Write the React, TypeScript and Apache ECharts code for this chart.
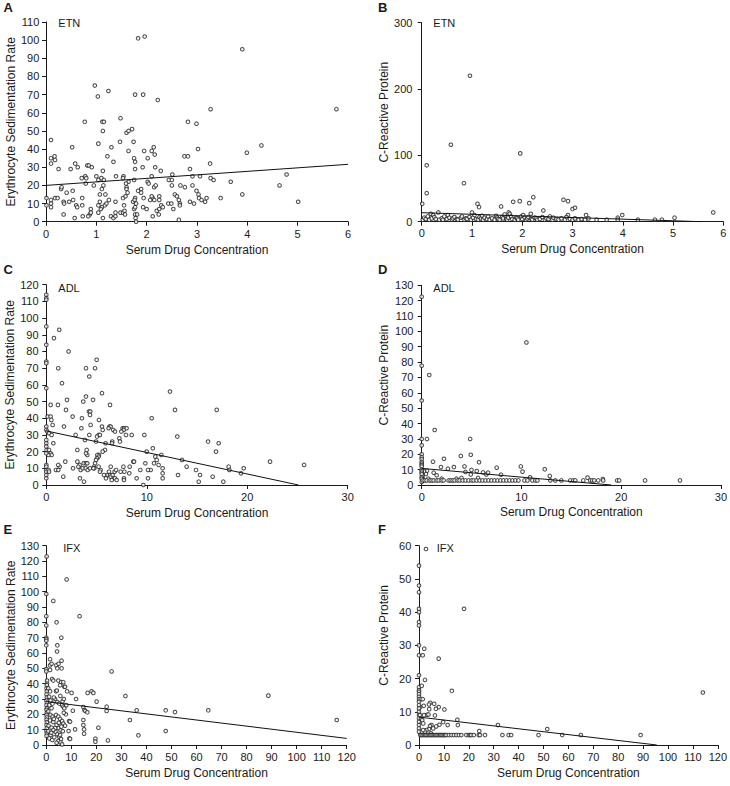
import React, { useEffect, useRef } from "react";
import * as echarts from "echarts";

// ---------- DATA ----------
const xTitle = "Serum Drug Concentration";
const esrTitle = "Erythrocyte Sedimentation Rate";
const crpTitle = "C-Reactive Protein";
const panelLetters = ["A", "B", "C", "D", "E", "F"];
const drugTags = ["ETN", "ETN", "ADL", "ADL", "IFX", "IFX"];

const etnEsr = [
  [1.83,101],[1.96,102],[3.90,95],[0.97,75],[1.03,69],[1.24,72],[1.77,70],[1.93,70],[2.22,67],[3.27,62],[5.77,62],
  [0.77,55],[1.12,55],[1.15,55],[2.82,55],[2.99,54],[1.48,57],[1.13,50],[1.60,49],[1.64,50],[1.71,51],
  [0.10,45],[0.52,41],[1.04,43],[1.30,41],[1.47,44],[1.74,44],[1.64,39],[1.95,39],[2.10,39],[2.14,41],[2.16,37],
  [1.34,33],[1.75,35],[1.77,33],[2.02,35],[0.10,35],[0.17,36],[0.18,34],[0.10,32],[0.58,32],[0.63,30],[0.82,31],
  [0.85,31],[0.91,30],[0.25,29],[0.49,29],[1.13,28],[1.22,36],[1.92,30],[2.17,30],[2.28,28],[2.75,36],[2.82,36],
  [3.02,40],[2.86,29],[3.26,32],[4.28,42],[3.99,38],[1.77,29],
  [1.00,25],[1.10,24],[1.15,23],[1.39,25],[1.54,25],[1.53,24],[0.78,25],[0.71,24],[0.80,24],[1.04,23],[1.64,22],
  [1.75,23],[2.02,22],[2.04,21],[2.10,25],[2.51,26],[2.44,23],[2.50,23],[2.91,25],[3.06,25],[3.27,24],[3.33,23],
  [3.67,22],[4.78,26],[4.64,20],[5.01,11],[3.90,15],[3.47,13],
  [0.79,21],[0.95,20],[1.14,20],[1.59,21],[1.60,19],[1.60,18],[0.30,18],[0.31,19],[0.41,16],[0.53,17],[1.11,18],
  [1.62,16],[1.89,18],[1.89,16],[2.15,19],[2.18,20],[1.83,17],[2.67,20],[2.76,19],[2.91,20],[2.99,17],[3.03,15],
  [3.04,13],[3.16,11],[2.56,15],[2.60,14],[2.50,20],[2.12,13],[2.15,12],[1.94,13],[2.10,14],[2.07,12],[2.25,14],
  [2.25,12],[1.77,13],[1.73,11],[1.38,11],[1.53,13],[1.58,14],[1.07,15],[1.18,15],[1.07,11],[1.25,12],
  [0.01,13],[0.01,9],[0.10,12],[0.10,10],[0.10,8],[0.18,13],[0.35,11],[0.46,11],[0.54,12],[0.60,9],[0.62,8],
  [0.72,13],[0.72,9],[0.89,7],[0.87,4],[0.89,5],[0.84,3],[1.04,9],[1.04,5],[1.11,8],[1.09,7],[1.17,9],[1.13,2],
  [1.20,10],[1.29,3],[1.34,2],[1.38,3],[1.38,5],[1.48,5],[1.53,5],[1.56,6],[1.57,4],[1.55,9],[1.75,7],[1.77,8],
  [1.79,10],[1.76,12],[1.77,4],[1.78,2],[1.79,0],[1.81,4],[1.93,8],[2.00,7],[2.12,3],[2.20,6],[2.24,4],[2.25,7],
  [2.29,9],[2.32,8],[2.43,10],[2.49,10],[2.53,7],[2.64,12],[2.66,10],[2.66,9],[2.64,1],[2.86,11],[2.94,10],
  [3.09,12],[3.19,13],[0.35,4],[0.57,2],[0.73,3],[0.36,10],[0.23,13]
];

const etnCrp = [
  [0.96,220],[0.58,116],[0.10,85],[1.96,103],[0.84,58],[0.10,43],[0.01,27],[1.11,27],[1.14,22],[1.58,23],
  [1.82,30],[1.95,31],[2.14,28],[2.22,37],[2.82,33],[2.91,31],[3.00,19],[3.05,21],[2.42,17],[1.00,14],[0.33,14],
  [0.18,12],[0.23,10],[1.73,14],[1.75,12],[2.17,12],[2.91,10],[3.27,10],[3.99,10],[5.80,14],[5.03,6],[3.90,6],
  [3.48,3],[3.68,3],[4.30,3],[4.64,3],[4.78,3],[3.90,3],
  [0.02,3],[0.05,6],[0.08,4],[0.12,8],[0.15,3],[0.20,5],[0.25,7],[0.28,4],[0.35,3],[0.40,5],[0.42,3],[0.45,8],
  [0.50,4],[0.52,10],[0.55,6],[0.60,3],[0.62,5],[0.65,7],[0.70,4],[0.72,3],[0.78,6],[0.80,8],[0.85,3],[0.88,5],
  [0.90,4],[0.95,7],[0.98,3],[1.02,6],[1.05,10],[1.08,4],[1.12,3],[1.15,7],[1.18,5],[1.20,9],[1.22,3],[1.25,6],
  [1.30,4],[1.32,8],[1.35,3],[1.40,5],[1.45,3],[1.48,9],[1.50,6],[1.52,4],[1.55,3],[1.60,7],[1.62,5],[1.65,11],
  [1.68,4],[1.70,3],[1.72,6],[1.78,8],[1.80,4],[1.85,3],[1.88,6],[1.90,5],[1.92,3],[1.98,8],[2.00,4],[2.02,10],
  [2.05,6],[2.08,3],[2.10,5],[2.12,7],[2.18,4],[2.20,3],[2.25,6],[2.28,5],[2.30,3],[2.35,4],[2.40,7],[2.45,3],
  [2.48,5],[2.52,4],[2.55,8],[2.60,3],[2.62,6],[2.68,4],[2.72,3],[2.78,5],[2.85,3],[2.88,7],[2.95,4],[3.00,3],
  [3.05,5],[3.12,3],[3.18,4],[3.25,3],[3.32,5]
];

const adlEsr = [
  [0,114],[0,112],[0,111],[0,95],[0,84],[0,74],[0,73],[0,58],[1.29,93],[0.76,88],[2.22,80],[1.19,70],[1.56,61],
  [3.95,70],[4.85,70],[5.01,75],[4.28,65],[5.54,55],[3.95,53],[3.68,50],[4.65,51],[2.06,51],[1.16,48],[0.43,48],
  [6.34,48],[4.25,44],[4.38,44],[1.96,45],[12.31,56],[12.81,45],[16.96,45],[10.49,40],[0.13,41],[0.43,41],
  [0.50,39],[0.63,36],[1.76,35],[2.62,41],[3.55,40],[3.49,34],[4.35,42],[5.24,39],[4.41,36],[6.30,35],[6.40,35],
  [6.20,34],[6.67,33],[6.84,32],[7.60,34],[7.75,34],[7.99,34],[7.70,33],[7.47,32],[7.93,30],[8.50,30],[5.54,35],
  [5.61,33],[7.27,28],[7.33,26],[5.21,30],[5.05,29],[5.34,30],[4.28,30],[2.92,30],[3.85,27],[4.95,26],[0,35],
  [0,33],[0.10,32],[0.27,31],[0.53,30],[0.70,25],[0,27],[0,25],[0,23],[0.03,21],[0.27,21],[0.43,19],[0.53,18],
  [0.20,18],[0,19],[9.99,20],[10.60,22],[11.45,18],[10.85,17],[10.99,15],[9.86,13],[10.72,13],[11.18,12],
  [11.58,10],[11.58,7],[11.58,4],[10.39,9],[10.12,9],[10.12,4],[9.36,9],[8.99,4],[9.66,0],[8.66,14],[8.73,14],
  [8.30,11],[7.67,11],[7.77,8],[7.40,8],[7.73,4],[7.73,3],[8.26,7],[13.04,29],[13.51,15],[13.97,11],[13.11,6],
  [14.90,9],[15.30,6],[15.17,2],[16.10,26],[17.16,25],[16.89,20],[16.56,5],[17.62,2],[18.15,11],[18.22,9],
  [19.65,10],[19.38,7],[22.27,14],[25.66,12],[6.57,26],[6.54,25],[5.90,25],[5.84,21],[5.61,20],[5.24,18],
  [5.08,18],[5.21,17],[5.05,16],[4.95,15],[4.85,13],[4.75,11],[4.78,10],[5.21,11],[4.08,18],[3.95,19],[4.02,21],
  [3.09,21],[3.72,13],[3.95,13],[4.08,13],[3.09,14],[3.32,12],[3.42,9],[3.62,10],[3.92,10],[4.12,9],[4.35,10],
  [4.68,10],[3.19,11],[2.66,10],[1.89,14],[1.33,11],[1.19,12],[0.96,9],[1.19,9],[1.69,5],[3.35,4],[3.75,2],
  [0,12],[0,11],[0,9],[0,8],[0,6],[0,4],[0.23,9],[0.27,8],[5.41,9],[5.34,8],[5.74,6],[5.94,4],[6.11,6],[6.24,8],
  [6.34,6],[6.41,5],[6.51,3],[6.60,6],[6.80,8],[6.84,4],[6.94,9],[7.00,3],[6.41,11],[9.76,30]
];

const adlCrp = [
  [0,122.6],[0,77.7],[0,55],[0.76,71.6],[1.3,35.8],[10.5,92.8],[0.53,30],[4.86,30],[0,30],[0,25.8],[4.92,19.7],
  [3.92,18.9],[2.23,17.1],[0,20],[0,18],[0,16.7],[0,15],[0,14],[0,13],[0,12],[1.13,15.2],[5.75,14.8],[3.23,11.7],
  [1.93,11.7],[2.63,10.6],[4.29,12.1],[7.52,11.3],[9.94,12.1],[12.34,10.2],[10.11,8.7],[4.39,8.5],[4.99,9.8],
  [5.52,9.1],[4.92,6.9],[6.15,8.2],[6.48,6.9],[6.65,8],[1.2,8],[1.5,6.3],[0.53,9.3],[0.43,7.2],[0.23,8.9],
  [0.1,6.3],[0.13,4.1],[0.67,4.1],[2.0,4.1],[7.95,6.7],[12.84,5.9],[10.87,5.0],[16.63,4.8],[18.16,3.9],[3.99,4.6],
  [3.49,4.1],[5.65,4.6],[0,10],[0,9],[0,8],[0,7],[0,5],[0,4],[0,2],
  [0.1,3],[0.3,3],[0.5,3],[0.8,3],[1.0,3],[1.2,3],[1.5,3],[1.7,3],[2.0,3],[2.2,3],[2.7,3],[2.9,3],[3.1,3],[3.3,3],
  [3.6,3],[3.8,3],[4.1,3],[4.4,3],[4.7,3],[5.0,3],[5.2,3],[5.5,3],[5.8,3],[6.1,3],[6.4,3],[6.7,3],[7.0,3],[7.3,3],
  [7.6,3],[7.9,3],[8.2,3],[8.5,3],[8.8,3],[9.1,3],[9.4,3],[9.7,3],[10.3,3],[10.6,3],[11.1,3],[11.4,3],[11.6,3],
  [12.9,3],[13.4,3],[14.0,3],[14.9,3],[15.2,3],[15.4,3],[16.2,3],[16.9,3],[17.1,3],[17.3,3],[17.7,3],[18.2,3],
  [19.6,3],[19.8,3],[22.4,3],[25.9,3]
];

const ifxEsr = [
  [0.13,123],[8.12,108],[0,98.5],[2.8,94],[0,84],[13.3,84],[4.1,80],[0,78],[0,70],[0,69],[0,68],[6.0,70],[0,65],
  [4.4,65],[4.3,61],[1.5,56],[6.1,55],[1.5,52],[2.1,53],[4.0,52],[4.9,53],[4.4,50],[6.1,50],[0,49.5],[0,48],
  [1.5,49],[26.1,48],[2.3,43],[2.8,42],[4.8,42],[5.9,41],[6.8,41],[7.2,38],[7.5,38],[0.3,42],[0.3,40],[5.5,39],
  [3.9,35],[4.2,35.5],[10.1,34],[8.3,35],[16.5,34],[18.1,35],[18.8,34],[31.6,32],[11.9,30],
  [0.2,39],[0.1,37],[0.2,35],[0.1,33],[0.2,31],[0.1,29],[0.2,27.6],[0.1,26],[0.2,24],[0.1,23],[0.2,21],[0.1,19.6],
  [0.2,18],[0.1,16.5],[0.2,14.8],[0.1,13],[0.2,11],[0.1,9],[0.2,7.6],[0.1,6],
  [0.8,37],[1.5,35],[1.1,31.5],[1.7,29],[1.2,26],[2.1,24],[0.8,22],[1.7,19.6],[2.5,18.5],[1.5,16],[2.8,15],
  [0.9,12.6],[2.1,11.3],[0.8,9],[1.7,6.5],[1.2,4.3],[2.4,3.3],
  [3.5,30],[4.4,28],[5.2,27],[6.3,26],[6.8,25],[7.2,24],[3.9,19.6],[4.8,18.5],[5.5,17],[6.3,15.6],[6.8,14],
  [7.5,12.6],[4.1,13],[4.9,11],[5.7,9.6],[3.7,8.7],[4.4,7],[5.2,5.4],[5.9,3.9],[4.8,2.6],[5.7,1.7],[6.3,0.4],
  [4.1,1.5],[3.5,11],[2.8,9.8],[3.0,17],[5.0,14.5],[6.0,12],[3.2,5],[2.0,8],[5.5,6.5],[6.6,9],[7.8,20],[7.0,21],
  [8.0,26],[6.5,28.5],[7.0,30],[5.6,32],[3.0,31],[2.5,27],
  [8.9,9.1],[9.2,4.3],[9.5,4],[9.1,15.6],[9.5,15.2],[11.5,10.2],[10.6,22.4],[14.8,24.8],[15.2,22.8],[15.6,22.2],
  [16.4,21.3],[14.8,16.3],[14.8,13],[15.1,10.2],[15.1,7.4],[20.8,11.3],[19.6,4.1],[19.6,2.2],[20.1,28.3],
  [24.1,25],[24.1,22.2],[24.6,3],[33.4,16.3],[36.1,22.6],[36.8,6.3],[47.7,22.6],[47.7,9.1],[51.4,21.5],
  [64.7,22.6],[88.7,32.2],[116,16.3]
];

const ifxCrp = [
  [2.8,59],[0,54],[0,48],[0,46],[0,41],[0,40],[0,37],[0,36],[18.1,41],[0,30],[0,27],[1.5,27],[2.1,29],[7.9,26],
  [0,21],[2.4,19.6],[0,17.4],[0,16.5],[0,16],[0,15.3],[0,14.5],[0,13.8],[1.1,17.8],[0.7,13.8],[13.2,16.3],
  [1.5,13.8],[4.5,12.7],[6.1,12.4],[4.0,12.2],[1.9,11.8],[0.4,11.4],[7.9,11.4],[6.8,10.9],[4.1,10.8],[10.2,10.7],
  [3.2,9.1],[3.8,9.2],[6.4,8.9],[2.0,9.0],[0,13],[0,12],[0,11],[0,10],[0,9],[0,8],[0,7],[0,6],[0,5],[0,4],
  [0.4,9],[0.8,8],[1.3,7.5],[1.7,6.5],[9.7,6.9],[11.5,6],[8.2,6.1],[6.9,5.6],[5.0,6],[4.4,5.7],[5.7,5],[4.0,4.8],
  [3.0,4.5],[2.4,4],[1.7,4.5],[4.8,3.5],[15.4,7.6],[15.6,6],[24.2,4.2],[31.7,6],[51.5,4.8],[114,15.8],
  [0.5,3],[1,3],[1.5,3],[2,3],[2.5,3],[3,3],[3.5,3],[4,3],[4.5,3],[5,3],[5.5,3],[6,3],[6.5,3],[7,3],[7.5,3],[8,3],
  [8.5,3],[9,3],[9.5,3],[10,3],[10.5,3],[11,3],[12,3],[13,3],[14,3],[15,3],[16,3],[17,3],[19,3],[20,3],[20.5,3],
  [21,3],[22,3],[24,3],[24.5,3],[26.5,3],[33.5,3],[36,3],[37,3],[48,3],[57.5,3],[65,3],[89,3]
];

const etnEsrFit = [[0,20],[6,31.6]];
const etnCrpFit = [[0,13.6],[5.57,0]];
const adlEsrFit = [[0,32.4],[25.1,0]];
const adlCrpFit = [[0,10.8],[19,0]];
const ifxEsrFit = [[0,28.3],[120,4.3]];
const ifxCrpFit = [[0,8.4],[95.5,0]];

const xMaxes = [6, 6, 30, 30, 120, 120];
const xSteps = [1, 1, 10, 10, 10, 10];
const yMaxes = [110, 300, 120, 130, 130, 60];
const ySteps = [10, 100, 10, 10, 10, 10];

// ---------- LAYOUT ----------
const FONT = '"Liberation Sans", Arial, Helvetica, sans-serif';
const INK = "#1a1a1a";
const grids = [
  { left: 46, top: 22, width: 302, height: 199.7 },
  { left: 421.7, top: 22.7, width: 301.6, height: 199 },
  { left: 46.3, top: 284.7, width: 301.4, height: 200.3 },
  { left: 421.7, top: 285.3, width: 300.6, height: 199.7 },
  { left: 46.3, top: 545.7, width: 300.4, height: 199.3 },
  { left: 419, top: 545.7, width: 300, height: 199.3 },
];
const yOffsets = [0.7, 3.3, 1.7, 2.3, 1.3, 1.7];
const xOffsets = [2, 1, 1.7, 1, 1.7, 1.7];
const yNameGaps = [23, 28, 22, 29, 22.5, 27.5];
const yNameShift = [0, 20, 0, 20, 0, 20];
const letterPos = [[3.5, 7.5], [378, 7.5], [3.5, 269.5], [378, 269.5], [3.5, 529.7], [378, 529.7]];
const tagPos = [[58.3, 23], [433.3, 23], [58.3, 287.5], [433.3, 287.5], [63.3, 547.5], [436.7, 548]];

export default function App() {
  const ref = useRef<HTMLDivElement>(null);
  useEffect(() => {
    if (!ref.current) return;
    const chart = echarts.init(ref.current, undefined, { renderer: "svg" });
    const scatterSets = [etnEsr, etnCrp, adlEsr, adlCrp, ifxEsr, ifxCrp];
    const fitSets = [etnEsrFit, etnCrpFit, adlEsrFit, adlCrpFit, ifxEsrFit, ifxCrpFit];
    const yTitles = [esrTitle, crpTitle, esrTitle, crpTitle, esrTitle, crpTitle];
    const axisLine = { show: true, lineStyle: { color: INK, width: 1 } };
    const axisTick = { show: true, length: 4, lineStyle: { color: INK, width: 1 } };
    const series: any[] = [];
    scatterSets.forEach((d, i) => {
      series.push({
        type: "scatter",
        xAxisIndex: i,
        yAxisIndex: i,
        data: d,
        symbol: "circle",
        symbolSize: 3.6,
        itemStyle: { color: "#ffffff", borderColor: "#222222", borderWidth: 1.05 },
        silent: true,
      });
      series.push({
        type: "line",
        xAxisIndex: i,
        yAxisIndex: i,
        data: fitSets[i],
        showSymbol: false,
        symbol: "none",
        lineStyle: { color: "#111", width: 1 },
        silent: true,
        z: 3,
      });
    });
    const graphics: any[] = [];
    panelLetters.forEach((t, i) => {
      graphics.push({
        type: "text",
        x: letterPos[i][0],
        y: letterPos[i][1],
        style: { text: t, fontFamily: FONT, fontSize: 13, fontWeight: "bold", fill: INK, align: "left", verticalAlign: "middle" },
      });
      graphics.push({
        type: "text",
        x: tagPos[i][0],
        y: tagPos[i][1],
        style: { text: drugTags[i], fontFamily: FONT, fontSize: 11, fill: INK, align: "left", verticalAlign: "middle" },
      });
    });
    chart.setOption({
      animation: false,
      backgroundColor: "#ffffff",
      textStyle: { fontFamily: FONT },
      grid: grids.map((g) => ({ ...g, containLabel: false })),
      xAxis: grids.map((_, i) => ({
        type: "value",
        gridIndex: i,
        min: 0,
        max: xMaxes[i],
        interval: xSteps[i],
        offset: xOffsets[i],
        splitLine: { show: false },
        axisLine,
        axisTick,
        axisLabel: { color: INK, fontSize: 11, fontFamily: FONT, margin: 5 },
        name: xTitle,
        nameLocation: "middle",
        nameGap: 20,
        nameTextStyle: { color: INK, fontSize: 12, fontFamily: FONT },
      })),
      yAxis: grids.map((_, i) => ({
        type: "value",
        gridIndex: i,
        min: 0,
        max: yMaxes[i],
        interval: ySteps[i],
        offset: yOffsets[i],
        splitLine: { show: false },
        axisLine,
        axisTick,
        axisLabel: { color: INK, fontSize: 11, fontFamily: FONT, margin: 6 },
        name: yTitles[i],
        nameLocation: "middle",
        nameGap: yNameGaps[i],
        nameTextStyle: { color: INK, fontSize: 12, fontFamily: FONT, padding: [0, 0, 0, yNameShift[i]] },
      })),
      series,
      graphic: graphics,
    });
    return () => chart.dispose();
  }, []);
  return (
    <div
      ref={ref}
      style={{ position: "absolute", left: 0, top: 0, width: 730, height: 786, background: "#fff" }}
    />
  );
}
